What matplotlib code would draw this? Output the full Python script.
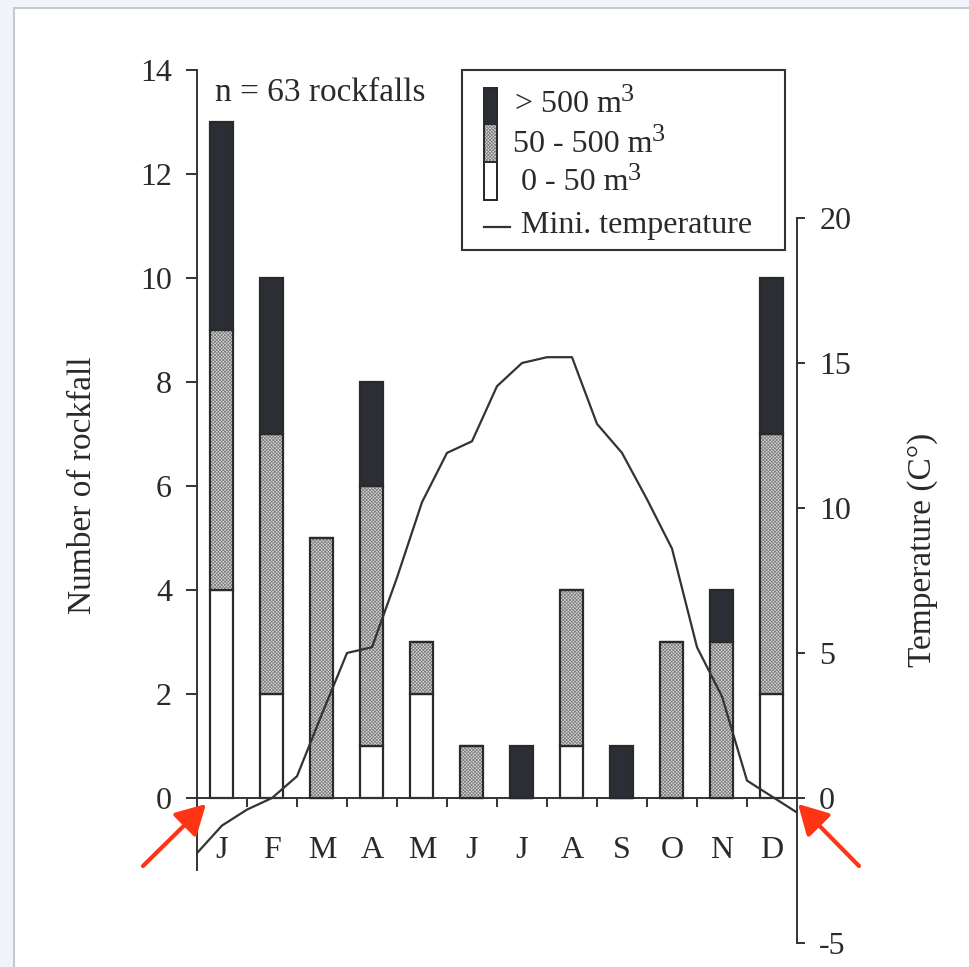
import numpy as np
import matplotlib
matplotlib.use('Agg')
import matplotlib.pyplot as plt
from matplotlib.patches import Rectangle, FancyArrowPatch

# 字体：类似 Times 的衬线体
plt.rcParams['font.family'] = ['Liberation Serif', 'DejaVu Serif']
plt.rcParams['axes.unicode_minus'] = False
plt.rcParams['hatch.linewidth'] = 0.55

# 数据
months = ['J', 'F', 'M', 'A', 'M', 'J', 'J', 'A', 'S', 'O', 'N', 'D']
small = [4, 2, 0, 1, 2, 0, 0, 1, 0, 0, 0, 2]      # 0 - 50 m3
medium = [5, 5, 5, 5, 1, 1, 0, 3, 0, 3, 3, 5]     # 50 - 500 m3
large = [4, 3, 0, 2, 0, 0, 1, 0, 1, 0, 1, 3]      # > 500 m3
# 半月最低气温 (从1月初到12月底)
temp_min = [-1.9, -0.95, -0.4, 0.0, 0.75, 2.9, 5.0, 5.2, 7.6, 10.2, 11.9, 12.3,
            14.2, 15.0, 15.2, 15.2, 12.9, 11.9, 10.3, 8.6, 5.2, 3.5, 0.6, 0.05, -0.5]
legend_labels = ['> 500 m', '50 - 500 m', '0 - 50 m']

W, H = 970, 967
DARK = '#2b2e35'
EDGE = '#2a2a2a'
HATCH_FACE = '#dadada'
HATCH_COL = '#7e7e7e'
HATCH = 'x' * 10
TXT = '#2a2a2a'
FS = 23


def fx(x):
    return x / W


def fy(y):
    return 1 - y / H


fig = plt.figure(figsize=(W / 100, H / 100), dpi=100, facecolor='#f1f5fb')

# 截图的白色底板
fig.add_artist(Rectangle((fx(14), fy(990)), fx(990 - 14), fy(8) - fy(990),
                         transform=fig.transFigure, facecolor='white',
                         edgecolor='#c8c8c8', lw=1.5, zorder=-5))

ax = fig.add_axes([fx(197), fy(943), fx(600), 873 / H])
ax.patch.set_alpha(0)

x = np.arange(len(months)) + 0.5
bw = 0.46
s = np.array(small)
m = np.array(medium)
l = np.array(large)

ax.bar(x, s, bw, color='white', edgecolor=EDGE, lw=1.6, zorder=2)
ax.bar(x, m, bw, bottom=s, color=HATCH_FACE, edgecolor=HATCH_COL,
       hatch=HATCH, lw=0, zorder=2)
ax.bar(x, m, bw, bottom=s, fill=False, edgecolor=EDGE, lw=1.6, zorder=3)
ax.bar(x, l, bw, bottom=s + m, color=DARK, edgecolor=EDGE, lw=1.6, zorder=3)

ax.set_xlim(0, 12)
ax.set_ylim(-(943 - 798) / 52, 14)
ax.set_yticks(range(0, 15, 2))
ax.tick_params(axis='y', direction='out', length=8, width=1.4, pad=10,
               labelsize=FS, colors='#333333', labelcolor=TXT)

ax.spines['top'].set_visible(False)
ax.spines['right'].set_visible(False)
ax.spines['left'].set_bounds(-(870 - 798) / 52, 14)
ax.spines['bottom'].set_position(('data', 0))
ax.spines['bottom'].set_bounds(0, 12)
for sp in ['left', 'bottom']:
    ax.spines[sp].set_linewidth(1.4)
    ax.spines[sp].set_color('#333333')

ax.set_xticks(range(1, 12))
ax.set_xticklabels([])
ax.tick_params(axis='x', which='major', direction='out', length=6.5,
               width=1.4, colors='#333333')
ax.set_xticks(x, minor=True)
ax.set_xticklabels(months, minor=True)
ax.tick_params(axis='x', which='minor', length=0, pad=27, labelsize=FS,
               labelcolor=TXT)

# 右轴：温度
ax2 = ax.twinx()
ax2.plot(np.arange(len(temp_min)) * 0.5, temp_min, color='#333333', lw=1.6,
         zorder=4)
ax2.set_ylim(-5, (798 - 70) / 29)
ax2.set_yticks(range(-5, 21, 5))
ax2.spines['right'].set_bounds(-5, 20)
ax2.spines['right'].set_linewidth(1.4)
ax2.spines['right'].set_color('#333333')
for sp in ['top', 'left', 'bottom']:
    ax2.spines[sp].set_visible(False)
ax2.tick_params(axis='y', direction='out', length=6, width=1.4, pad=10,
                labelsize=FS, colors='#333333', labelcolor=TXT)

fig.text(fx(83), fy(485), 'Number of rockfall', rotation=90, ha='center',
         va='center', fontsize=24, color=TXT)
fig.text(fx(923), fy(550), 'Temperature (C°)', rotation=90, ha='center',
         va='center', fontsize=24, color=TXT)
fig.text(fx(215), fy(93), 'n = 63 rockfalls', ha='left', va='center',
         fontsize=24, color=TXT)

# 图例（手绘）
fig.add_artist(Rectangle((fx(462), fy(250)), fx(785 - 462), fy(70) - fy(250),
                         transform=fig.transFigure, facecolor='white',
                         edgecolor='#333333', lw=1.5, zorder=5))
seg = [(88, 125, DARK, None), (125, 162, HATCH_FACE, HATCH),
       (162, 200, 'white', None)]
for top, bot, col, hat in seg:
    r = Rectangle((fx(484), fy(bot)), fx(13), fy(top) - fy(bot),
                  transform=fig.transFigure, facecolor=col,
                  edgecolor=HATCH_COL if hat else EDGE, hatch=hat,
                  lw=0 if hat else 1.4, zorder=6)
    fig.add_artist(r)
fig.add_artist(Rectangle((fx(484), fy(200)), fx(13), fy(88) - fy(200),
                         transform=fig.transFigure, fill=False,
                         edgecolor=EDGE, lw=1.4, zorder=7))

# 图例文字 + 上标3
r = fig.canvas.get_renderer()
for lab, lx, ly in zip(legend_labels, [515, 513, 521], [104, 144, 183]):
    t = fig.text(fx(lx), fy(ly), lab, ha='left', va='center', fontsize=FS,
                 color=TXT, zorder=8)
    bb = t.get_window_extent(renderer=r)
    fig.text(bb.x1 / W - 0.001, fy(ly - 9), '3', ha='left', va='center',
             fontsize=19, color=TXT, zorder=8)

fig.add_artist(plt.Line2D([fx(484), fx(510)], [fy(227), fy(227)],
                          transform=fig.transFigure, color='#333333',
                          lw=1.6, zorder=8))
fig.text(fx(521), fy(226), 'Mini. temperature', ha='left', va='center',
         fontsize=FS, color=TXT, zorder=8)

# 红色箭头
for tail, tip in [((143, 866), (206, 804)), ((859, 866), (798, 804))]:
    arr = FancyArrowPatch(posA=(fx(tail[0]), fy(tail[1])),
                          posB=(fx(tip[0]), fy(tip[1])),
                          transform=fig.transFigure,
                          arrowstyle='-|>,head_length=0.9,head_width=0.5',
                          mutation_scale=20, color='#ff3414', lw=3,
                          shrinkA=0, shrinkB=0, zorder=10)
    fig.add_artist(arr)

fig.savefig('out.png', dpi=100, facecolor=fig.get_facecolor())
